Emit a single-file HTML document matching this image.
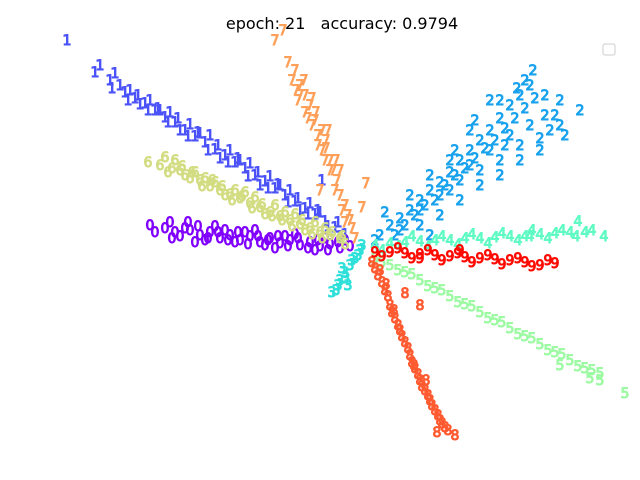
<!DOCTYPE html>
<html>
<head>
<meta charset="utf-8">
<style>
  html,body{margin:0;padding:0;background:#fff;}
  svg{display:block;}
  text{font-family:"DejaVu Sans","Liberation Sans",sans-serif;}
</style>
</head>
<body>
<svg id="chart" width="640" height="480" viewBox="0 0 640 480" xmlns="http://www.w3.org/2000/svg">
  <rect width="640" height="480" fill="#ffffff"/>
  <text x="342" y="29" text-anchor="middle" font-size="16" fill="#000" xml:space="preserve">epoch: 21   accuracy: 0.9794</text>
  <rect x="603" y="44" width="12" height="11" rx="2" fill="#fff" stroke="#ccc"/>
  <g id="marks"></g>
</svg>
<script>
const classLabels = ["0","1","2","3","4","5","6","7","8","9"];
const classColors = ["#8000ff","#4a52f8","#18a2ee","#2ee0da","#60fac4","#9cfaa2","#d2dc80","#ffa05a","#ff5a30","#ff0a00"];
const pts0 = [[150,225],[165,228],[175,232],[180,236],[190,230],[200,235],[210,232],[220,238],[230,235],[240,240],[250,236],[260,242],[270,238],[280,243],[290,240],[300,245],[310,242],[320,246],[330,244],[340,248],[350,246],[185,228],[205,240],[225,230],[245,232],[265,245],[285,236],
 [155,232],[170,222],[172,238],[195,242],[215,226],[235,242],[255,230],[275,248],[295,234],[315,250],[325,238],[345,240],[188,222],[198,226],[208,238],[218,232],[228,240],[238,232],[248,244],[258,236],[268,240],[278,236],[288,246],[298,238],[308,248],[318,240],[328,250],[338,242]];
const pts1 = [[67,40],[100,65],[95,72],[110,80],[115,73],[125,92],[135,98],[145,103],[155,110],[165,117],[175,122],[185,130],[195,136],[205,142],[215,149],[225,155],[235,162],[245,168],[255,175],[265,181],[275,188],[285,195],[295,201],[305,208],[315,214],[325,221],[335,227],[345,234],[150,100],[170,112],[190,124],[210,135],[230,150],[250,163],[270,176],[290,190],[310,203],[322,180],
 [130,90],[140,104],[160,110],[180,130],[200,133],[220,158],[240,160],[260,185],[280,185],[300,210],[320,212],[340,236],[128,100],[138,95],[148,110],[158,108],[168,122],[178,118],[188,136],[198,132],[208,150],[218,145],[228,162],[238,158],[248,176],[258,172],[268,188],[278,184],[288,202],[298,198],[308,214],[318,210],[328,226],[338,222],[120,85],[112,88]];
const pts2 = [[380,235],[390,225],[400,218],[410,210],[420,200],[430,190],[440,182],[450,172],[460,160],[470,150],[480,140],[490,130],[500,118],[510,105],[520,95],[530,85],[533,70],[517,88],[545,115],[560,125],[580,110],[560,100],[540,138],[520,145],[500,160],[480,170],[460,180],[440,195],[420,210],[400,230],[385,212],[430,235],[490,100],[505,145],[470,130],[455,150],
 [395,235],[405,225],[415,215],[425,205],[435,200],[445,185],[455,175],[465,168],[475,158],[485,148],[495,140],[505,128],[515,118],[525,108],[535,98],[545,95],[550,130],[530,125],[510,135],[490,150],[470,165],[450,190],[420,225],[440,215],[460,200],[480,185],[500,175],[520,160],[540,150],[375,240],[410,195],[430,175],[450,160],[475,120],[500,100],[525,80],[555,115],[565,135]];
const pts3 = [[336,290],[340,280],[345,272],[350,265],[355,258],[360,250],[348,285],[342,268],[362,245],[338,285],[352,260],[346,278],[358,255],[332,292]];
const pts4 = [[375,245],[390,243],[405,242],[420,241],[435,240],[450,240],[465,238],[480,238],[495,237],[510,236],[525,236],[540,234],[555,233],[570,232],[585,232],[604,236],[578,221],[530,236],
 [382,250],[398,246],[412,236],[428,246],[442,236],[458,244],[472,234],[488,243],[502,233],[518,240],[532,230],[548,238],[562,230],[576,236],[592,230]];
const pts5 = [[375,258],[390,265],[405,272],[420,280],[435,288],[450,296],[465,304],[480,312],[495,320],[510,328],[525,336],[540,344],[555,352],[570,360],[585,368],[600,373],[625,393],[600,380],[590,378],[560,365],
 [382,262],[398,270],[412,274],[428,286],[442,290],[458,302],[472,306],[488,318],[502,322],[518,334],[532,338],[548,350],[562,354],[578,366],[592,370]];
const pts6 = [[148,162],[165,157],[168,172],[180,170],[190,178],[200,180],[210,186],[220,190],[230,194],[240,198],[250,203],[260,207],[270,212],[280,216],[290,220],[300,224],[310,228],[320,232],[330,235],[340,238],[195,172],[215,182],[235,190],[255,197],[275,205],[295,214],[315,222],
 [160,165],[175,160],[185,175],[205,178],[225,195],[245,192],[265,214],[285,212],[305,230],[325,228],[345,244],[172,168],[182,166],[192,172],[202,186],[212,180],[222,186],[232,200],[242,196],[252,208],[262,204],[272,216],[282,220],[292,226],[302,220],[312,234],[322,238],[332,232],[342,236]];
const pts7 = [[275,40],[283,30],[288,62],[292,80],[298,100],[300,85],[305,112],[310,105],[315,120],[318,135],[322,130],[326,148],[330,160],[333,170],[337,180],[340,195],[345,205],[348,215],[352,228],[355,238],[320,190],[340,170],[366,183],[362,207],[312,98],[326,140],
 [295,70],[300,95],[305,95],[308,118],[312,125],[318,145],[322,150],[325,160],[330,170],[335,190],[342,210],[350,220],[345,222],[328,130],[316,112],[304,80],[296,90],[336,160]];
const pts8 = [[372,262],[378,275],[385,290],[390,305],[395,318],[400,330],[405,342],[410,355],[415,368],[420,380],[425,390],[430,400],[435,410],[440,420],[445,427],[455,435],[437,432],[420,305],[405,293],
 [375,268],[382,282],[388,296],[392,312],[398,325],[402,336],[408,348],[412,362],[418,374],[422,386],[428,395],[432,405],[438,415],[442,423],[448,430],[380,270],[386,284],[394,310],[414,365],[426,380]];
const pts9 = [[375,252],[390,252],[405,253],[420,254],[435,255],[450,256],[465,257],[480,258],[495,259],[510,260],[525,262],[540,265],[555,263],[460,250],[420,258],
 [382,256],[398,248],[412,258],[428,250],[442,260],[458,253],[472,262],[488,255],[502,264],[518,258],[532,266],[548,260]];
const allPoints = [pts0,pts1,pts2,pts3,pts4,pts5,pts6,pts7,pts8,pts9];

const xDomain = [0,640], yDomain = [0,480];
function xScale(v){ return (v - xDomain[0]) / (xDomain[1]-xDomain[0]) * 640; }
function yScale(v){ return (v - yDomain[0]) / (yDomain[1]-yDomain[0]) * 480; }

const NS = "http://www.w3.org/2000/svg";
const g = document.getElementById("marks");
allPoints.forEach(function(pts, c){
  const grp = document.createElementNS(NS, "g");
  
  
  pts.forEach(function(p){
    const t = document.createElementNS(NS, "text");
    t.setAttribute("x", xScale(p[0]));
    t.setAttribute("y", yScale(p[1]) + 5);
    t.setAttribute("text-anchor", "middle");
    t.setAttribute("font-size", "14");
    t.setAttribute("fill", classColors[c]);
    t.setAttribute("stroke", classColors[c]);
    t.setAttribute("stroke-width", "1");
    t.textContent = classLabels[c];
    
    
    grp.appendChild(t);
  });
  g.appendChild(grp);
});
</script>
</body>
</html>
